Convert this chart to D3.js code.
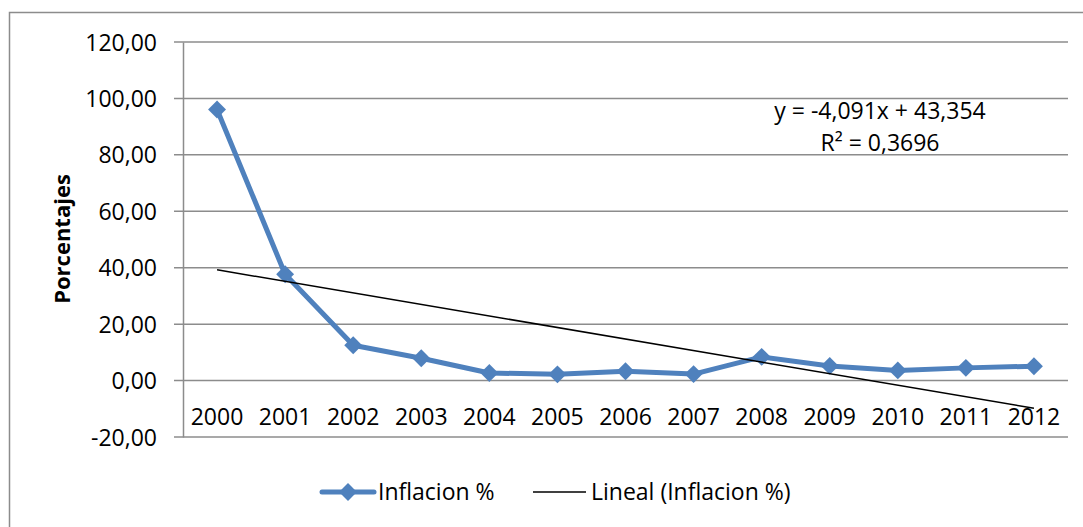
<!DOCTYPE html>
<html>
<head>
<meta charset="utf-8">
<script src="https://cdn.jsdelivr.net/npm/d3@7"></script>
<style>
  body { margin: 0; background: #fff; }
  text { font-family: "Open Sans", "Noto Sans", sans-serif; fill: #000; }
</style>
</head>
<body>
<svg id="chart"></svg>
<script>
const width = 1083, height = 527;

// data
const years = ["2000", "2001", "2002", "2003", "2004", "2005", "2006", "2007", "2008", "2009", "2010", "2011", "2012"];
const inflation = [96.1, 37.7, 12.5, 7.9, 2.7, 2.2, 3.3, 2.3, 8.4, 5.2, 3.6, 4.5, 5.1];
const yTicks = [-20, 0, 20, 40, 60, 80, 100, 120];
const trendSlope = -4.091, trendIntercept = 43.354; // from the trendline label
const trendLabel = ["y = -4,091x + 43,354", "R² = 0,3696"];

const plot = { left: 183, right: 1068, top: 42, bottom: 437 };
const blue = "#4F81BD";
const gridColor = "#8c8c8c";
const fontSize = 23;

const svg = d3.select("#chart").attr("width", width).attr("height", height);

// chart border
svg.append("rect")
    .attr("x", 9.5).attr("y", 12.5)
    .attr("width", width + 20).attr("height", height + 20)
    .attr("fill", "none").attr("stroke", gridColor).attr("stroke-width", 1.5);

const x = d3.scaleBand().domain(years).range([plot.left, plot.right]);
const y = d3.scaleLinear().domain([-20, 120]).range([plot.bottom, plot.top]);

// gridlines
svg.append("g").selectAll("line")
    .data(yTicks)
    .join("line")
    .attr("x1", plot.left - 9).attr("x2", plot.right)
    .attr("y1", d => y(d)).attr("y2", d => y(d))
    .attr("stroke", gridColor).attr("stroke-width", 1.5);

// value axis
const yAxis = d3.axisLeft(y).tickValues(yTicks).tickSize(0).tickPadding(12)
    .tickFormat(d => d3.format(".2f")(d).replace(".", ",").replace("−", "-"));
svg.append("g")
    .attr("transform", `translate(${plot.left},0)`)
    .call(yAxis)
    .call(g => g.select(".domain").attr("stroke", gridColor).attr("stroke-width", 1.5))
    .call(g => g.selectAll("text").attr("font-size", fontSize).attr("dy", "0.35em").attr("x", -26).attr("fill", "#000"));

// category labels
svg.append("g").selectAll("text")
    .data(years)
    .join("text")
    .attr("x", d => x(d) + x.bandwidth() / 2)
    .attr("y", 417)
    .attr("dy", "0.35em")
    .attr("text-anchor", "middle")
    .attr("font-size", fontSize)
    .text(d => d);

// axis title
svg.append("text")
    .attr("transform", "translate(62,239) rotate(-90)")
    .attr("text-anchor", "middle")
    .attr("dy", "0.35em")
    .attr("font-size", 22)
    .attr("font-weight", "bold")
    .text("Porcentajes");

// series line
const line = d3.line()
    .x((d, i) => x(years[i]) + x.bandwidth() / 2)
    .y(d => y(d));

svg.append("path")
    .datum(inflation)
    .attr("d", line)
    .attr("fill", "none")
    .attr("stroke", blue)
    .attr("stroke-width", 5)
    .attr("stroke-linejoin", "round")
    .attr("stroke-linecap", "round");

const diamond = d3.symbol().type(d3.symbolSquare).size(160);
svg.append("g").selectAll("path")
    .data(inflation)
    .join("path")
    .attr("d", diamond)
    .attr("transform", (d, i) => `translate(${x(years[i]) + x.bandwidth() / 2},${y(d)}) rotate(45)`)
    .attr("fill", blue);

// linear trendline, x = 1..n
const trendX = [1, years.length];
svg.append("line")
    .attr("x1", x(years[0]) + x.bandwidth() / 2)
    .attr("y1", y(trendSlope * trendX[0] + trendIntercept))
    .attr("x2", x(years[years.length - 1]) + x.bandwidth() / 2)
    .attr("y2", y(trendSlope * trendX[1] + trendIntercept))
    .attr("stroke", "#000").attr("stroke-width", 1.5);

// trendline label
svg.append("g").selectAll("text")
    .data(trendLabel)
    .join("text")
    .attr("x", 880)
    .attr("y", (d, i) => 111 + i * 32)
    .attr("dy", "0.35em")
    .attr("text-anchor", "middle")
    .attr("font-size", fontSize)
    .text(d => d);

// legend
const legend = svg.append("g");
legend.append("line")
    .attr("x1", 322).attr("x2", 374).attr("y1", 492).attr("y2", 492)
    .attr("stroke", blue).attr("stroke-width", 5).attr("stroke-linecap", "round");
legend.append("path")
    .attr("d", diamond)
    .attr("transform", "translate(348,492) rotate(45)")
    .attr("fill", blue);
legend.append("text")
    .attr("x", 378).attr("y", 492).attr("dy", "0.35em")
    .attr("font-size", fontSize)
    .text("Inflacion %");
legend.append("line")
    .attr("x1", 533).attr("x2", 586).attr("y1", 492).attr("y2", 492)
    .attr("stroke", "#000").attr("stroke-width", 1.5);
legend.append("text")
    .attr("x", 591).attr("y", 492).attr("dy", "0.35em")
    .attr("font-size", fontSize)
    .text("Lineal (Inflacion %)");
</script>
</body>
</html>
